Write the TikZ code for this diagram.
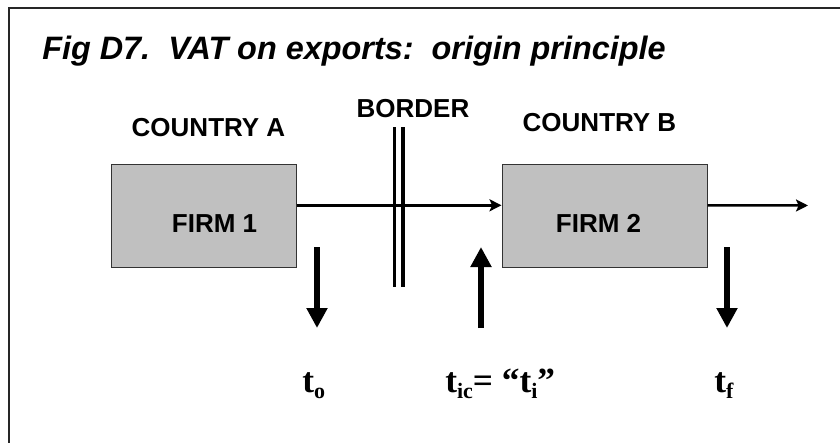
\documentclass[tikz,border=0pt]{standalone}
\usepackage{fontspec}
\setmainfont{Liberation Sans}
\newfontfamily\taxfont{Liberation Serif}
\usetikzlibrary{arrows.meta,calc}
\definecolor{firmgray}{HTML}{C0C0C0}
\newcommand{\lowsub}[1]{\raisebox{-4.5pt}{\fontsize{16.5}{18}\selectfont #1}}
\begin{document}
\begin{tikzpicture}[x = 0.75pt, y = -0.75pt,
        firm/.style = {draw = black!80, line width = 0.75pt, fill = firmgray, minimum height = 77.6pt, inner sep = 0pt},
        lbl/.style = {anchor = base, inner sep = 0pt, font = \fontsize{19.5}{22}\selectfont\bfseries},
        taxlbl/.style = {anchor = base west, inner sep = 0pt, font = \taxfont\fontsize{26.5}{30}\selectfont\bfseries},
        tax/.style = {line width = 4.9pt, -{Triangle[length = 15pt, width = 15pt]}},
        flow/.style = {line width = 1.9pt, -{Stealth[length = 9pt, width = 9pt, inset = 2pt]}}]
            \useasboundingbox (0,0) rectangle (840,443);
            \draw[line width = 1.9pt, black!85] (9,8) rectangle (860,460);
            \node[anchor = base west, inner sep = 0pt, font = \fontsize{24.3}{28}\selectfont\bfseries\itshape] (title) at (42,59) {Fig D7.\ \ VAT on exports:\ \ origin principle};
            \node[firm, minimum width = 138.75pt] (f1) at (203.5,215.75) {};
            \node[firm, minimum width = 153.75pt] (f2) at (604.5,215.75) {};
            \node[lbl] (n1) at (214.5,232) {FIRM 1};
            \node[lbl] (n2) at (598.5,232) {FIRM 2};
            \node[lbl] (ca) at (208.5,136.5) {COUNTRY A};
            \node[lbl] (cb) at (599.5,131.5) {COUNTRY B};
            \node[lbl] (bd) at (413,117) {BORDER};
            \begin{scope}[line width = 2.6pt]
                \draw (394.5,127) -- (394.5,287);
                \draw (403,127) -- (403,287);
            \end{scope}
            \coordinate (exit) at (808,205.5);
            \draw[flow] ($(f1.north east)!0.4!(f1.south east)$) -- ($(f2.north west)!0.4!(f2.south west)$);
            \draw[flow] ($(f2.north east)!0.4!(f2.south east)$) -- (exit);
            \node[taxlbl] (to) at (302,392) {t\lowsub{o}};
            \node[taxlbl] (tic) at (445,392) {t\lowsub{ic}= “t\lowsub{i}”};
            \node[taxlbl] (tf) at (714,392) {t\lowsub{f}};
            \coordinate (o1) at (317,247);
            \coordinate (o2) at (317,328);
            \coordinate (i1) at (481,328);
            \coordinate (i2) at (481,247);
            \coordinate (d1) at (727,247);
            \coordinate (d2) at (727,328);
            \draw[tax] (o1) -- (o2);
            \draw[tax] (i1) -- (i2);
            \draw[tax] (d1) -- (d2);
        \end{tikzpicture}
\end{document}
